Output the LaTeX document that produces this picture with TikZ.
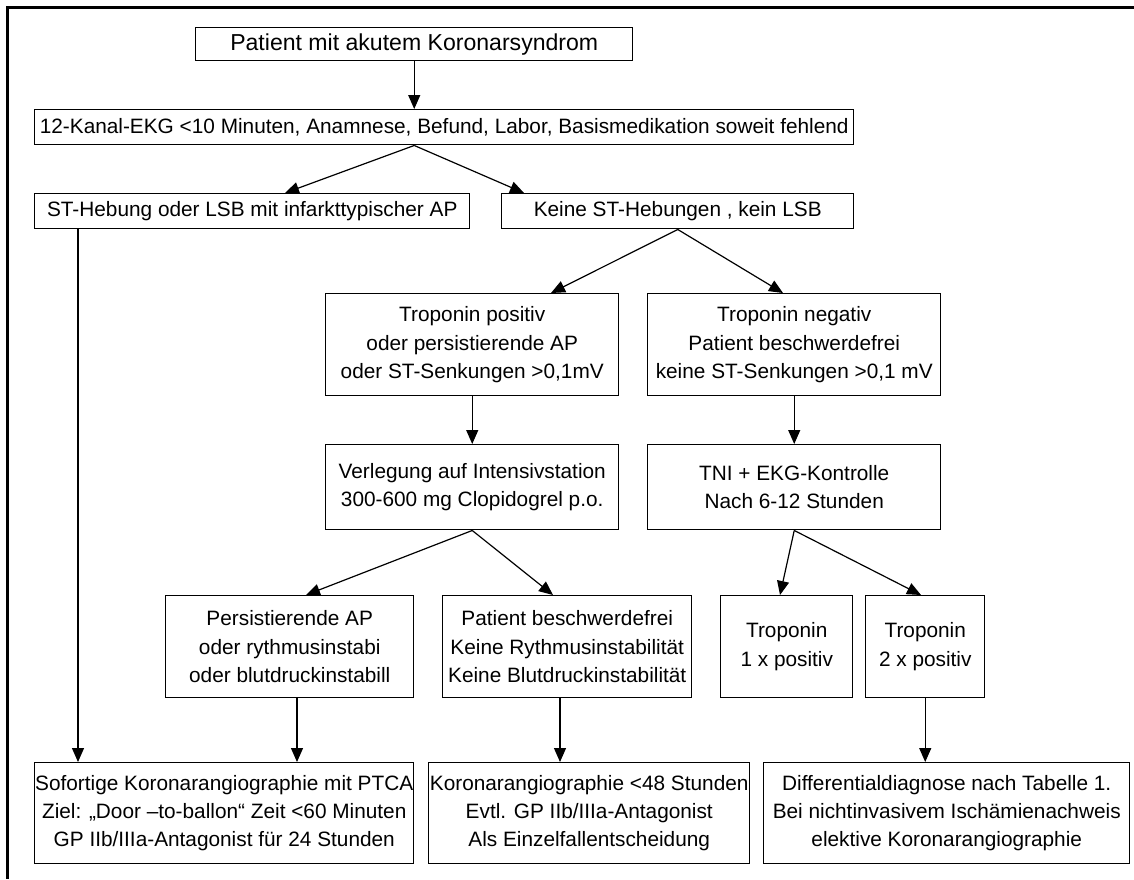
\documentclass[tikz,border=0pt]{standalone}
\usepackage{fontspec}
\setmainfont{Liberation Sans}
\usetikzlibrary{arrows.meta,calc}

\newcommand{\boxfont}{\fontsize{15.6}{21.2}\selectfont}
\newcommand{\headfont}{\fontsize{17.3}{21.2}\selectfont}

\tikzset{
  box/.style={draw, line width=1.1pt, inner sep=0pt, align=center,
              anchor=north west, font=\boxfont},
  sz/.style 2 args={minimum width=#1*0.75pt, minimum height=#2*0.75pt},
  arr/.style={line width=0.9pt, -{Triangle[length=10.5pt,width=9pt]}},
  frame/.style={line width=2.3pt}
}

\begin{document}
\begin{tikzpicture}[x=0.75pt, y=-0.75pt]
  \useasboundingbox (0,0) rectangle (1134,879);
  \fill[white] (0,0) rectangle (1134,879);
  \draw[frame] (1134,7.5) -- (7.5,7.5) -- (7.5,879);

  % first two steps
  \node[box, sz={437}{33}, font=\headfont] (b1) at (195,27) {Patient mit akutem Koronarsyndrom};
  \node[box, sz={819}{35}] (b2) at (34,109)
    {12-Kanal-EKG <10 Minuten, Anamnese, Befund, Labor, Basismedikation soweit fehlend};

  % ECG branches
  \node[box, sz={435}{35}] (b3) at (34,193) {ST-Hebung oder LSB mit infarkttypischer AP};
  \node[box, sz={352}{35}] (b4) at (501,193) {Keine ST-Hebungen , kein LSB};

  % troponin
  \node[box, sz={293}{102}] (b5) at (325,293)
    {Troponin positiv\\oder persistierende AP\\oder ST-Senkungen >0,1mV};
  \node[box, sz={293}{102}] (b6) at (647,293)
    {Troponin negativ\\Patient beschwerdefrei\\keine ST-Senkungen >0,1 mV};

  \node[box, sz={293}{85}] (b7) at (325,444)
    {Verlegung auf Intensivstation\\300-600 mg Clopidogrel p.o.};
  \node[box, sz={293}{85}] (b8) at (647,444)
    {TNI + EKG-Kontrolle\\Nach 6-12 Stunden};

  % fourth level
  \node[box, sz={248}{102}] (b9) at (165,595)
    {Persistierende AP\\oder rythmusinstabi\\oder blutdruckinstabill};
  \node[box, sz={249}{102}] (b10) at (442,595)
    {Patient beschwerdefrei\\Keine Rythmusinstabilität\\Keine Blutdruckinstabilität};
  \node[box, sz={132}{102}] (b11) at (720,595) {Troponin\\1 x positiv};
  \node[box, sz={119}{102}] (b12) at (865,595) {Troponin\\2 x positiv};

  % outcomes
  \node[box, sz={379}{101}] (b13) at (34,762)
    {Sofortige Koronarangiographie mit PTCA\\Ziel: „Door –to-ballon“ Zeit <60 Minuten\\GP IIb/IIIa-Antagonist für 24 Stunden};
  \node[box, sz={321}{101}] (b14) at (428,762)
    {Koronarangiographie <48 Stunden\\Evtl. GP IIb/IIIa-Antagonist\\Als Einzelfallentscheidung};
  \node[box, sz={366}{101}] (b15) at (763,762)
    {Differentialdiagnose nach Tabelle 1.\\Bei nichtinvasivem Ischämienachweis\\elektive Koronarangiographie};

  % connectors
  \coordinate (s2) at (b1.south |- b2.south);
  \draw[arr] (b1.south) -- (b1.south |- b2.north);
  \draw[arr] (s2) -- ($(b3.north west)+(251,0)$);
  \draw[arr] (s2) -- ($(b4.north west)+(23,0)$);

  \coordinate (s3) at ($(b3.south west)+(44,0)$);
  \draw[arr] (s3) -- (s3 |- b13.north);

  \draw[arr] (b4.south) -- ($(b5.north west)+(226,0)$);
  \draw[arr] (b4.south) -- ($(b6.north west)+(136,0)$);

  \draw[arr] (b5.south) -- (b7.north);
  \draw[arr] (b6.south) -- (b8.north);

  \draw[arr] (b7.south) -- ($(b9.north west)+(141,0)$);
  \draw[arr] (b7.south) -- ($(b10.north west)+(111,0)$);
  \draw[arr] (b8.south) -- ($(b11.north west)+(60,0)$);
  \draw[arr] (b8.south) -- ($(b12.north west)+(56,0)$);

  \coordinate (s9) at ($(b9.south west)+(132,0)$);
  \draw[arr] (s9) -- (s9 |- b13.north);
  \coordinate (s10) at ($(b10.south west)+(118,0)$);
  \draw[arr] (s10) -- (s10 |- b14.north);
  \draw[arr] (b12.south) -- (b12.south |- b15.north);
\end{tikzpicture}
\end{document}
